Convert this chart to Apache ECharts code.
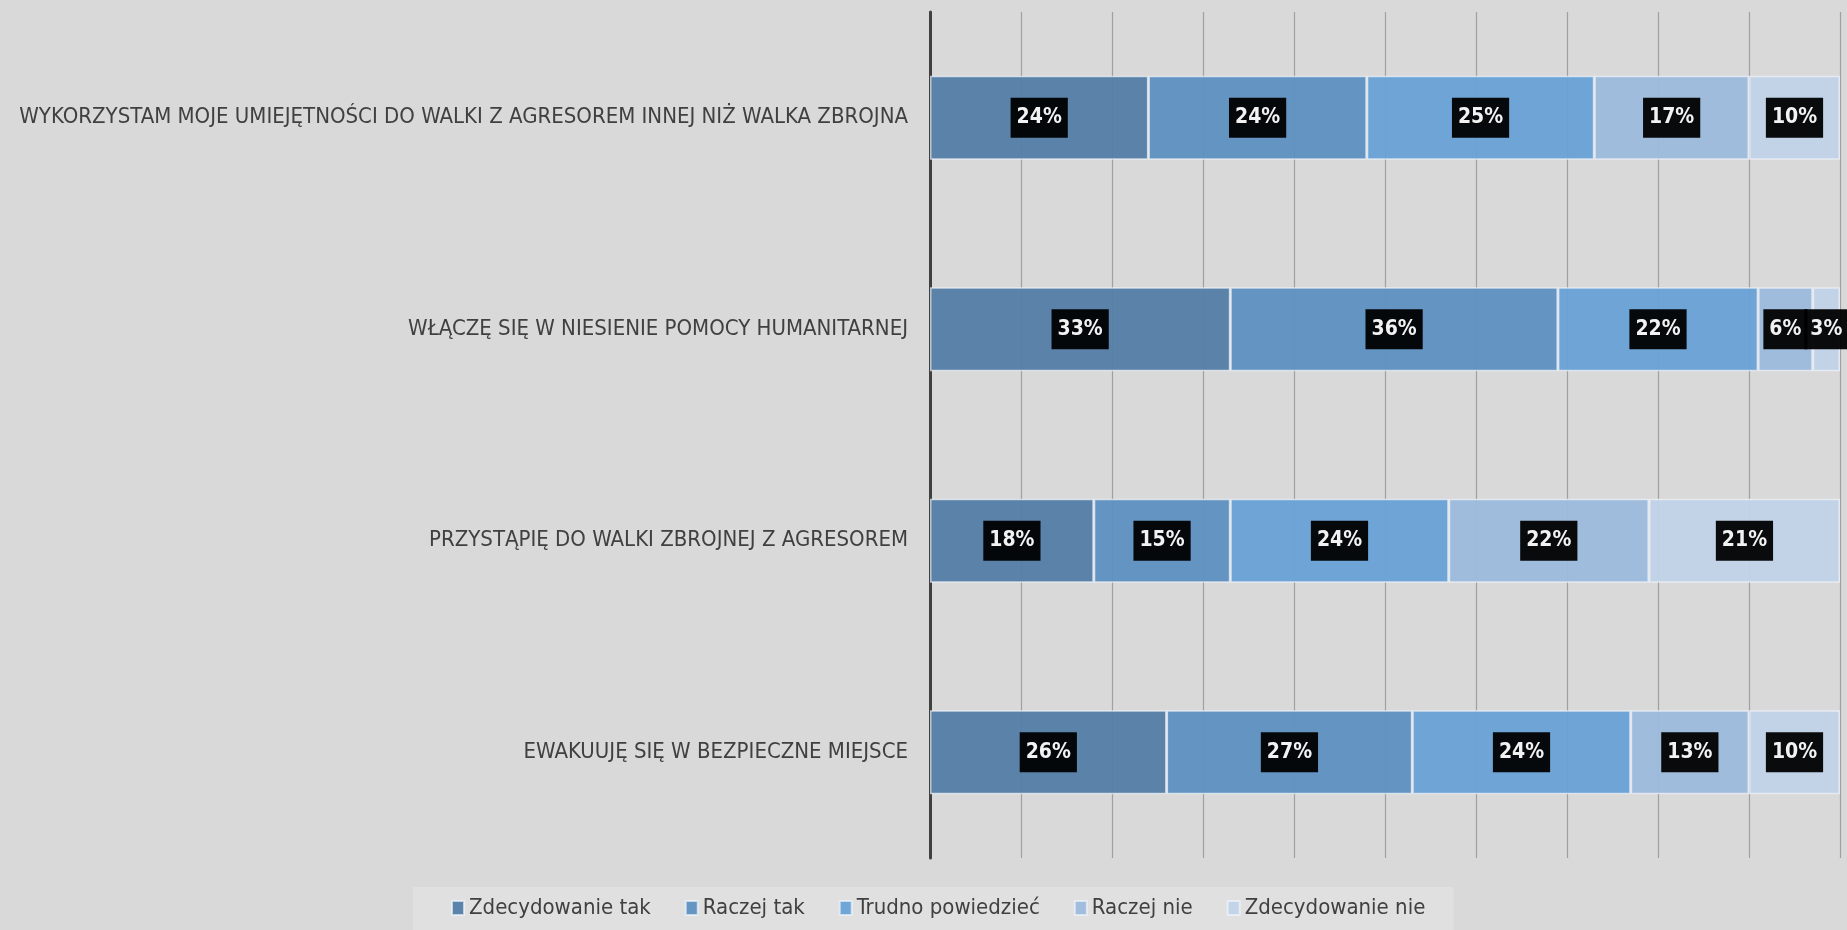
<!DOCTYPE html>
<html>
<head>
<meta charset="utf-8">
<script src="https://cdn.jsdelivr.net/npm/echarts@6/dist/echarts.min.js"></script>
<style>
  html, body { margin: 0; padding: 0; background: #d9d9d9; }
  #chart { width: 1847px; height: 930px; }
</style>
</head>
<body>
<div id="chart"></div>
<script>
// categories bottom -> top (echarts draws category axis from the bottom)
var categories = [
  "EWAKUUJĘ SIĘ W BEZPIECZNE MIEJSCE",
  "PRZYSTĄPIĘ DO WALKI ZBROJNEJ Z AGRESOREM",
  "WŁĄCZĘ SIĘ W NIESIENIE POMOCY HUMANITARNEJ",
  "WYKORZYSTAM MOJE UMIEJĘTNOŚCI DO WALKI Z AGRESOREM INNEJ NIŻ WALKA ZBROJNA"
];
var seriesNames = ["Zdecydowanie tak", "Raczej tak", "Trudno powiedzieć", "Raczej nie", "Zdecydowanie nie"];
var zdecydowanieTak = [26, 18, 33, 24];
var raczejTak = [27, 15, 36, 24];
var trudnoPowiedziec = [24, 24, 22, 25];
var raczejNie = [13, 22, 6, 17];
var zdecydowanieNie = [10, 21, 3, 10];

var colors = ["#547ea6", "#5e91c1", "#68a2d6", "#9dbadc", "#c1d3e9"];
var font = "'Liberation Sans Narrow', 'DejaVu Sans Condensed', 'Noto Sans', sans-serif";

var chart = echarts.init(document.getElementById("chart"));

var allData = [zdecydowanieTak, raczejTak, trudnoPowiedziec, raczejNie, zdecydowanieNie];
var series = [];
for (var i = 0; i < seriesNames.length; i++) {
  series.push({
    name: seriesNames[i],
    type: "bar",
    stack: "total",
    barWidth: 84,
    data: allData[i],
    itemStyle: {
      color: colors[i],
      opacity: 0.95,
      borderColor: "rgba(240,244,250,0.75)",
      borderWidth: 1.5
    },
    label: {
      show: true,
      position: "inside",
      formatter: "{c}%",
      color: "#fff",
      fontWeight: "bold",
      fontSize: 21,
      lineHeight: 22,
      fontFamily: font,
      backgroundColor: "#000",
      padding: [10, 6, 8, 6]
    }
  });
}

chart.setOption({
  backgroundColor: "#d9d9d9",
  animation: false,
  textStyle: { fontFamily: font },
  grid: { left: 930, right: 7, top: 12, bottom: 72, outerBoundsMode: "none" },
  legend: {
    bottom: 0,
    left: 413,
    data: seriesNames,
    itemWidth: 12,
    itemHeight: 14,
    itemGap: 34,
    icon: "rect",
    backgroundColor: "#e0e0e0",
    padding: [10, 28, 11, 38],
    textStyle: { color: "#404040", fontSize: 22, fontFamily: font }
  },
  xAxis: {
    type: "value",
    min: 0,
    max: 100,
    interval: 10,
    axisLine: { show: false },
    axisTick: { show: false },
    axisLabel: { show: false },
    splitLine: { show: true, lineStyle: { color: "#a0a0a0", width: 1.2 } }
  },
  yAxis: {
    type: "category",
    data: categories,
    axisLine: { show: true, lineStyle: { color: "#404040", width: 3 } },
    axisTick: { show: false },
    axisLabel: { color: "#404040", fontSize: 22, margin: 22, fontFamily: font }
  },
  series: series
});
</script>
</body>
</html>
